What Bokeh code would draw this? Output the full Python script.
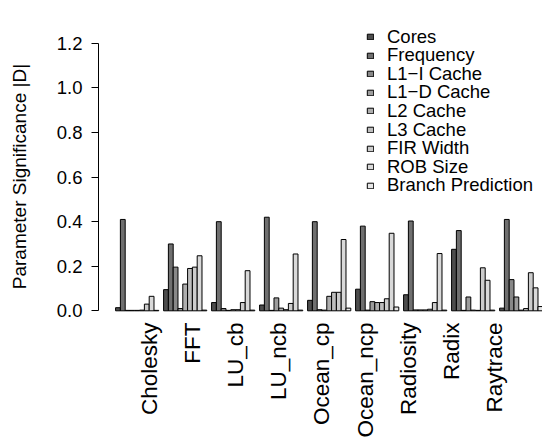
import math
from bokeh.plotting import figure
from bokeh.models import ColumnDataSource, Range1d, FixedTicker, Legend, LegendItem
from bokeh.embed import file_html
from bokeh.resources import INLINE

benchmarks = ["Cholesky", "FFT", "LU_cb", "LU_ncb", "Ocean_cp",
              "Ocean_ncp", "Radiosity", "Radix", "Raytrace"]
params = ["Cores", "Frequency", "L1\u2212I Cache", "L1\u2212D Cache", "L2 Cache",
          "L3 Cache", "FIR Width", "ROB Size", "Branch Prediction"]

cores     = [0.014, 0.095, 0.037, 0.026, 0.047, 0.097, 0.072, 0.276, 0.012]
frequency = [0.410, 0.300, 0.400, 0.420, 0.400, 0.380, 0.403, 0.360, 0.410]
l1i_cache = [0.002, 0.196, 0.010, 0.002, 0.005, 0.003, 0.004, 0.002, 0.140]
l1d_cache = [0.002, 0.010, 0.002, 0.058, 0.003, 0.041, 0.004, 0.062, 0.062]
l2_cache  = [0.002, 0.120, 0.005, 0.012, 0.065, 0.037, 0.004, 0.003, 0.003]
l3_cache  = [0.003, 0.190, 0.005, 0.005, 0.083, 0.037, 0.007, 0.002, 0.010]
fir_width = [0.030, 0.196, 0.037, 0.033, 0.083, 0.054, 0.037, 0.193, 0.171]
rob_size  = [0.065, 0.247, 0.180, 0.255, 0.320, 0.348, 0.257, 0.137, 0.103]
branch    = [0.002, 0.003, 0.003, 0.003, 0.012, 0.017, 0.003, 0.003, 0.019]

series = [cores, frequency, l1i_cache, l1d_cache, l2_cache, l3_cache,
          fir_width, rob_size, branch]
colors = ["#4D4D4D", "#6F6F6F", "#888888", "#9D9D9D", "#AEAEAE",
          "#BEBEBE", "#CCCCCC", "#D9D9D9", "#E6E6E6"]

y_ticks = [0.0, 0.2, 0.4, 0.6, 0.8, 1.0, 1.2]
y_title = "Parameter Significance |D|"

FONT = "Liberation Sans"
FS = "18.5px"

n_par = len(params)
group_span = n_par + 1  # R barplot beside=TRUE, space=c(0,1)

p = figure(width=542, height=440, output_backend="svg", toolbar_location=None,
           x_range=Range1d(-2.56, 89.94), y_range=Range1d(-0.048, 1.3478),
           min_border_left=98, min_border_right=0, min_border_top=10,
           min_border_bottom=118)
p.outline_line_color = None
p.xgrid.visible = False
p.ygrid.visible = False
p.background_fill_color = "white"
p.border_fill_color = "white"

renderers = []
for j, (name, vals, col) in enumerate(zip(params, series, colors)):
    xs = [group_span * i + 1 + j + 0.5 for i in range(len(benchmarks))]
    src = ColumnDataSource(dict(x=xs, top=vals))
    r = p.vbar(x="x", top="top", bottom=0, width=1.0, source=src,
               fill_color=col, line_color="black", line_width=1)
    renderers.append(r)

# y axis (R style)
ya = p.yaxis[0]
ya.ticker = FixedTicker(ticks=y_ticks)
ya.major_label_overrides = {t: f"{t:.1f}" for t in y_ticks}
ya.bounds = (0, 1.2)
ya.major_tick_out = 7
ya.major_tick_in = 0
ya.minor_tick_out = 0
ya.minor_tick_in = 0
ya.axis_line_color = "black"
ya.major_tick_line_color = "black"
ya.major_label_standoff = 9
ya.major_label_text_font = FONT
ya.major_label_text_font_size = FS
ya.major_label_text_color = "black"
# non-breaking padding shifts the centred title down onto the 0-1.2 region
ya.axis_label = y_title + "\u00a0" * 4
ya.axis_label_text_font = FONT
ya.axis_label_text_font_size = "19px"
ya.axis_label_text_font_style = "normal"
ya.axis_label_text_color = "black"
ya.axis_label_standoff = 24

# x axis: benchmark names (placed every 9 units, as in the original)
label_pos = [n_par * (i + 1) - 1 for i in range(len(benchmarks))]
xa = p.xaxis[0]
xa.ticker = FixedTicker(ticks=label_pos)
xa.major_label_overrides = {c: b for c, b in zip(label_pos, benchmarks)}
xa.major_label_orientation = math.pi / 2
xa.axis_line_color = None
xa.major_tick_line_color = None
xa.minor_tick_line_color = None
xa.major_tick_out = 0
xa.major_tick_in = 0
xa.major_label_standoff = 1
xa.major_label_text_font = FONT
xa.major_label_text_font_size = "22.5px"
xa.major_label_text_color = "black"

# legend: one row per parameter, tight R-like line spacing
ROW_PITCH = 18.6
for k, (name, r) in enumerate(zip(params, renderers)):
    lg = Legend(items=[LegendItem(label=name, renderers=[r])],
                location=(268, 273.5 - ROW_PITCH * k))
    lg.label_text_font = FONT
    lg.label_text_font_size = FS
    lg.label_text_color = "black"
    lg.glyph_width = 8
    lg.glyph_height = 7
    lg.label_standoff = 13
    lg.label_height = 18
    lg.spacing = 0
    lg.padding = 0
    lg.margin = 0
    lg.border_line_color = None
    lg.background_fill_alpha = 0
    p.add_layout(lg)

open("out.html", "w").write(file_html(p, INLINE))
